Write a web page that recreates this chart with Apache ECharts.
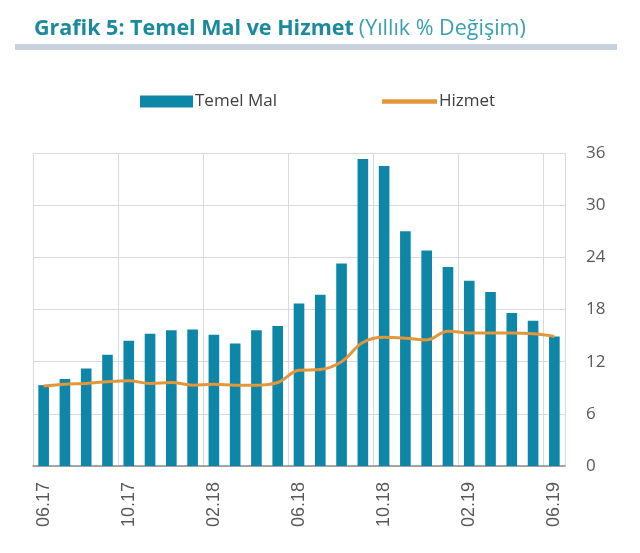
<!DOCTYPE html>
<html><head><meta charset="utf-8">
<script src="https://cdn.jsdelivr.net/npm/echarts@6/dist/echarts.min.js"></script>
<style>html,body{margin:0;padding:0;background:#fff}#c{width:640px;height:553px}</style>
</head><body><div id="c"></div>
<script>
const categories = ['06.17','07.17','08.17','09.17','10.17','11.17','12.17','01.18','02.18','03.18','04.18','05.18','06.18','07.18','08.18','09.18','10.18','11.18','12.18','01.19','02.19','03.19','04.19','05.19','06.19'];
const temelMal = [9.3,10.0,11.2,12.8,14.4,15.2,15.6,15.7,15.1,14.1,15.6,16.1,18.7,19.7,23.3,35.3,34.5,27.0,24.8,22.9,21.3,20.0,17.6,16.7,14.9];
const hizmet = [9.2,9.4,9.5,9.7,9.8,9.5,9.6,9.3,9.4,9.3,9.3,9.6,11.0,11.1,12.0,14.2,14.8,14.7,14.5,15.5,15.3,15.3,15.3,15.2,14.9];
const yTicks = [0,6,12,18,24,30,36];

const chart = echarts.init(document.getElementById('c'), null, {renderer:'canvas'});
const legendText = {fontFamily:'Open Sans',fontSize:17,color:'#404040',padding:[0,0,0,-3]};
chart.setOption({
  animation:false,
  backgroundColor:'#fff',
  title:{
    left:29, top:13,
    text:'{b|Grafik 5: Temel Mal ve Hizmet} {n|(Yıllık % Değişim)}',
    textStyle:{rich:{
      b:{fontFamily:'Open Sans',fontSize:21.5,fontWeight:'bold',color:'#1b8a9e'},
      n:{fontFamily:'Open Sans',fontSize:21.5,fontWeight:'normal',color:'#3a9fb0'}
    }}
  },
  graphic:[{type:'rect',shape:{x:15,y:44,width:602,height:6},style:{fill:'#c9d1de'}}],
  legend:[
    {top:88, left:135, itemWidth:53, itemHeight:12, textStyle:legendText,
     data:[{name:'Temel Mal',icon:'rect'}]},
    {top:88, left:377, itemWidth:55, itemHeight:12, textStyle:legendText,
     data:[{name:'Hizmet',icon:'path://M0,5.6L10,5.6L10,6.4L0,6.4Z'}]}
  ],
  grid:{left:33,right:75,top:153,bottom:87},
  xAxis:{
    type:'category', data:categories, boundaryGap:true,
    axisLine:{lineStyle:{color:'#8c8c8c',width:1.5}},
    axisTick:{interval:3,length:6,lineStyle:{color:'#8c8c8c'}},
    axisLabel:{interval:3,rotate:90,margin:16,fontFamily:'Liberation Sans',fontSize:18,color:'#595959'},
    splitLine:{show:true,interval:3,lineStyle:{color:'#d9d9d9'}}
  },
  yAxis:{
    type:'value', position:'right', min:0, max:36, interval:6,
    axisLine:{show:false}, axisTick:{show:false},
    axisLabel:{margin:21,fontFamily:'Open Sans',fontSize:17,color:'#595959',
      formatter:v=>yTicks.includes(v)?String(v):''},
    splitLine:{lineStyle:{color:'#d9d9d9'}}
  },
  series:[
    {name:'Temel Mal',type:'bar',data:temelMal,barWidth:'50%',itemStyle:{color:'#0e86a8'}},
    {name:'Hizmet',type:'line',data:hizmet,smooth:0.4,symbol:'none',
     lineStyle:{color:'#e3963a',width:3},itemStyle:{color:'#e3963a'}}
  ]
});
</script></body></html>
